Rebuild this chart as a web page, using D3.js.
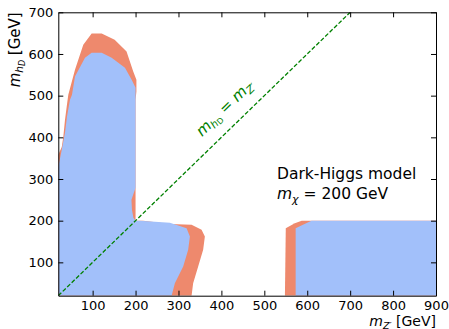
<!DOCTYPE html>
<html><head><meta charset="utf-8">
<script src="https://cdn.jsdelivr.net/npm/d3@7"></script>
<style>
html,body{margin:0;padding:0;background:#fff;}
svg{display:block;font-family:"DejaVu Sans",sans-serif;}
</style></head>
<body><svg id="c" width="449" height="329"></svg>
<script>
// ---- data (m_Z' [GeV], m_hD [GeV]) ----
const xTicks = [100,200,300,400,500,600,700,800,900];
const yTicks = [100,200,300,400,500,600,700];
const diagonal = [[20,20],[700,700]];
const leftOrange = [[20,20],[20,358],[28,377],[31.6,401],[35.6,442],[39.6,474],[43.3,502],[58.9,562],[78.2,622],[97.7,649],[121,649],[151.3,634],[179,606],[194.6,558],[202,538],[202,510],[200,490],[200,200],[218,200],[280,192],[330.5,190],[353.8,178],[361.5,162],[357.5,130],[345.9,90],[334.2,50],[330.5,20]];
const leftBlue = [[20,20],[20,329],[28,370],[35.6,411],[40.3,450],[47.2,490],[51.9,502],[58.9,546],[82.2,591],[97.7,603],[121,603],[144.3,591],[175.3,567],[190.9,538],[200,519],[200,279],[190.4,250],[191.6,226],[195,207],[200,200],[210,200],[280,195],[318.9,182],[326.6,162],[322.6,130],[311,90],[291.6,50],[284,20]];
const rightOrange = [[548,20],[550,182],[571,194],[587,200],[900,200],[900,20]];
const rightBlue = [[573,20],[573,182],[590,190],[610,200],[900,200],[900,20]];

const svg = d3.select("#c");
const L=58.3,R=436,T=12.3,B=295.7;
const x = d3.scaleLinear().domain([20,900]).range([L,R]);
const y = d3.scaleLinear().domain([20,700]).range([B,T]);
const ORANGE="#ee896d", BLUE="#a2c0fa";

const line = d3.line().x(d=>x(d[0])).y(d=>y(d[1]));
svg.append("clipPath").attr("id","pc").append("rect").attr("x",L).attr("y",T).attr("width",R-L).attr("height",B-T);
const g = svg.append("g").attr("clip-path","url(#pc)");
[[leftOrange,ORANGE],[rightOrange,ORANGE],[leftBlue,BLUE],[rightBlue,BLUE]].forEach(([d,c])=>{
  g.append("path").attr("d",line(d)+"Z").attr("fill",c).attr("stroke","none");
});
g.append("path").attr("d",line(diagonal)).attr("fill","none").attr("stroke","#008000")
  .attr("stroke-width",1.3).attr("stroke-dasharray","4.2,2");

// axes
const fs=13;
function style(sel){sel.selectAll("text").attr("font-size",fs).attr("fill","#000").attr("font-family","DejaVu Sans");
  sel.selectAll("line").attr("stroke","#000").attr("stroke-width",1);
  sel.select(".domain").attr("stroke","#000").attr("stroke-width",1);}
svg.append("g").attr("transform",`translate(0,${B})`).call(d3.axisBottom(x).tickValues(xTicks).tickSizeInner(-5).tickSizeOuter(0).tickPadding(5)).call(style);
svg.append("g").attr("transform",`translate(${L},0)`).call(d3.axisLeft(y).tickValues(yTicks).tickSizeInner(-5).tickSizeOuter(0).tickPadding(5)).call(style);
svg.append("g").attr("transform",`translate(0,${T})`).call(d3.axisTop(x).tickValues(xTicks).tickSizeInner(-5).tickSizeOuter(0).tickFormat("")).call(style);
svg.append("g").attr("transform",`translate(${R},0)`).call(d3.axisRight(y).tickValues(yTicks).tickSizeInner(-5).tickSizeOuter(0).tickFormat("")).call(style);
svg.selectAll(".domain").attr("fill","none");

// axis labels
const yl = svg.append("text").attr("transform",`translate(20,${T}) rotate(-90)`).attr("text-anchor","end").attr("font-size",15);
yl.append("tspan").attr("font-style","italic").text("m");
yl.append("tspan").attr("font-style","italic").attr("font-size",10.5).attr("dy",3).text("h");
yl.append("tspan").attr("font-style","italic").attr("font-size",8).attr("dy",1.5).text("D");
yl.append("tspan").attr("dy",-4.5).text(" [GeV]");

const xl = svg.append("text").attr("x",R).attr("y",326).attr("text-anchor","end").attr("font-size",14);
xl.append("tspan").attr("font-style","italic").text("m");
xl.append("tspan").attr("font-style","italic").attr("font-size",9.5).attr("dy",2.5).text("Z′");
xl.append("tspan").attr("dy",-2.5).text(" [GeV]");

// annotation
svg.append("text").attr("x",277).attr("y",179).attr("font-size",15.5).text("Dark-Higgs model");
const t2 = svg.append("text").attr("x",277).attr("y",199).attr("font-size",15.5);
t2.append("tspan").attr("font-style","italic").text("m");
t2.append("tspan").attr("font-style","italic").attr("font-size",11).attr("dy",3.5).text("χ");
t2.append("tspan").attr("dy",-3.5).text(" = 200 GeV");

// diagonal label
const ang = Math.atan2(y(0)-y(100), x(100)-x(0))*180/Math.PI;
const dl = svg.append("text").attr("transform",`translate(202,137) rotate(${-ang})`).attr("fill","#008000").attr("font-size",15);
dl.append("tspan").attr("font-style","italic").text("m");
dl.append("tspan").attr("font-style","italic").attr("font-size",10.5).attr("dy",3).text("h");
dl.append("tspan").attr("font-size",8).attr("dy",1).text("D");
dl.append("tspan").attr("dy",-4).text(" = ");
dl.append("tspan").attr("font-style","italic").text("m");
dl.append("tspan").attr("font-style","italic").attr("font-size",10.5).attr("dy",3).text("Z′");
</script></body></html>
